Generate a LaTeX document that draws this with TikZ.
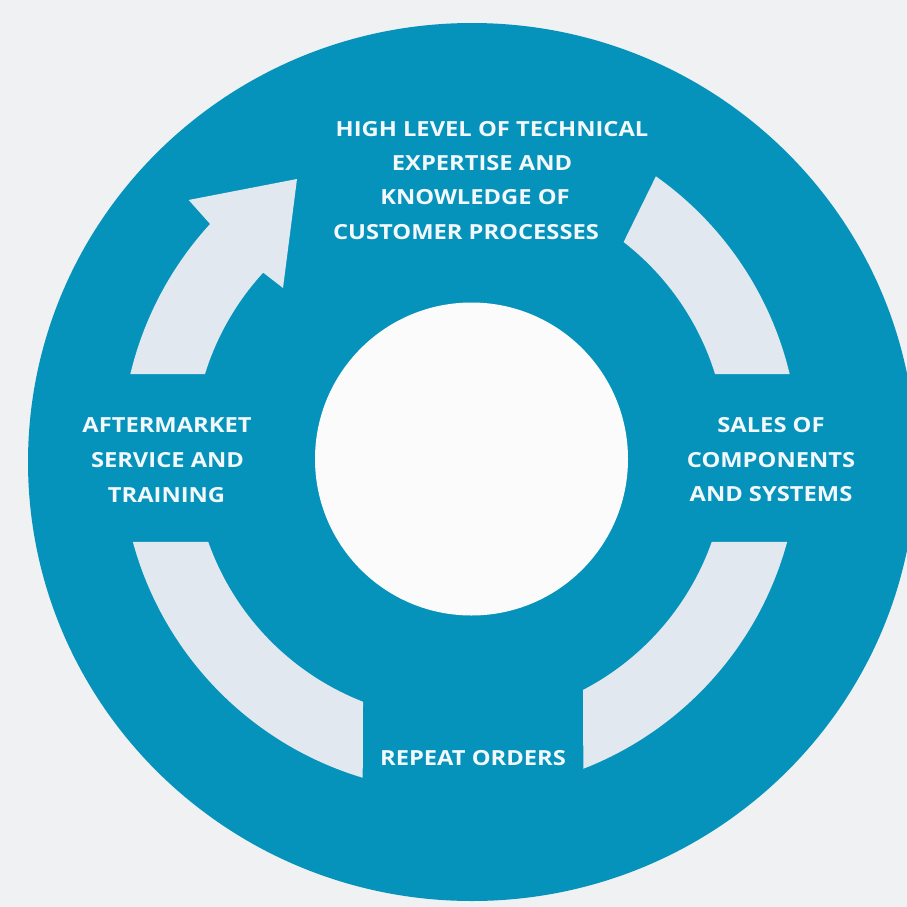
\documentclass[tikz,border=0pt]{standalone}
\usepackage{fontspec}
\setmainfont{Open Sans}[FakeStretch=1.14]
\usetikzlibrary{calc}
\definecolor{bgc}{HTML}{EFF1F3}
\definecolor{diskc}{HTML}{0693BB}
\definecolor{holec}{HTML}{FBFBFB}
\definecolor{bandc}{HTML}{E2E8F0}
\definecolor{labeltxt}{HTML}{F2F8FB}
\begin{document}
\begin{tikzpicture}[x=1pt,y=-1pt,
  lbl/.style={text=labeltxt,font=\bfseries\fontsize{20.8}{24}\selectfont,inner sep=0pt,anchor=center},
  band/.style={fill=bandc}]
\useasboundingbox (0,0) rectangle (907,907);
\fill[bgc] (0,0) rectangle (907,907);
\fill[diskc] (472,462) ellipse[x radius=444,y radius=439];
\fill[holec] (471.5,459) circle[radius=156.5];
\coordinate (C) at (460,453);
% upper-left arrow
\fill[band] (C) ++(193.47:339) arc[start angle=193.47,end angle=222.5,radius=339]
  -- ($(C)+(223:371)$) -- (297,179) -- ($(C)+(223:242)$) -- ($(C)+(222.5:267)$)
  arc[start angle=222.5,end angle=197.2,radius=267] -- cycle;
% upper-right band
\fill[band] (C) ++(305.3:339) arc[start angle=305.3,end angle=346.53,radius=339]
  -- ($(C)+(342.8:267)$) arc[start angle=342.8,end angle=307.8,radius=267] -- cycle;
% lower-right band
\fill[band] (C) ++(15.22:339) arc[start angle=15.22,end angle=68.66,radius=339]
  -- ($(C)+(62.57:267)$) arc[start angle=62.57,end angle=19.47,radius=267] -- cycle;
% lower-left band
\fill[band] (C) ++(106.68:339) arc[start angle=106.68,end angle=164.78,radius=339]
  -- ($(C)+(160.53:267)$) arc[start angle=160.53,end angle=111.3,radius=267] -- cycle;
% labels
\node[lbl] (t1) at (492,129) {HIGH LEVEL OF TECHNICAL};
\node[lbl] (t2) at (482,163) {EXPERTISE AND};
\node[lbl] (t3) at (475,197) {KNOWLEDGE OF};
\node[lbl] (t4) at (466,232) {CUSTOMER PROCESSES};
\node[lbl] (l1) at (167,425) {AFTERMARKET};
\node[lbl] (l2) at (167.5,460) {SERVICE AND};
\node[lbl] (l3) at (166.5,495) {TRAINING};
\node[lbl] (r1) at (771,425) {SALES OF};
\node[lbl] (r2) at (771,460) {COMPONENTS};
\node[lbl] (r3) at (771,494) {AND SYSTEMS};
\node[lbl] (b1) at (473,758) {REPEAT ORDERS};
\end{tikzpicture}
\end{document}
